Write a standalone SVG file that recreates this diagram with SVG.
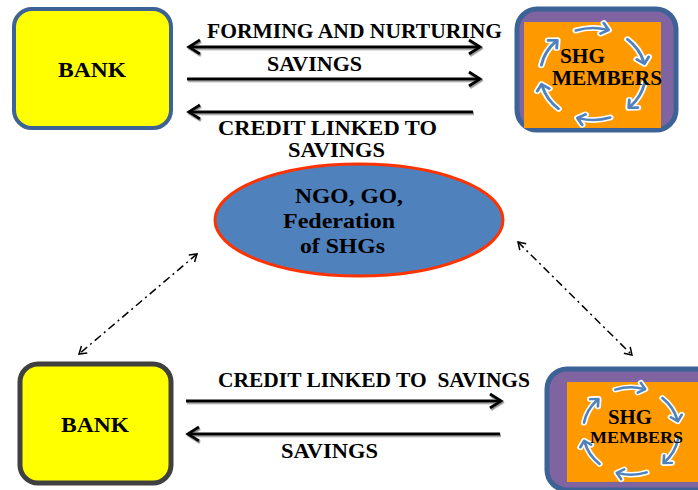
<svg xmlns="http://www.w3.org/2000/svg" width="698" height="490" viewBox="0 0 698 490">
  <defs>
    <style>
      .lbl { font-family: "Liberation Serif", "Times New Roman", serif; font-weight: bold; fill: #000; }
      .bank { fill: #FFFF00; }
      .shg-outer { fill: #8064A2; stroke: #3C6296; stroke-width: 5; }
      .shg-inner { fill: #FF9900; }
      .flow { stroke: #000; stroke-width: 3; fill: none; }
      .link { stroke: #000; stroke-width: 1.5; fill: none; stroke-dasharray: 8 4 2 4; }
      .cyc-halo { stroke: #FFFFFF; stroke-width: 6; fill: none; stroke-linecap: round; stroke-linejoin: round; }
      .cyc-core { stroke: #4F81BD; stroke-width: 2.6; fill: none; stroke-linecap: round; stroke-linejoin: round; }
    </style>
    <marker id="head" markerUnits="userSpaceOnUse" markerWidth="16" markerHeight="18" refX="13" refY="9" orient="auto-start-reverse">
      <path d="M2,2 L13,9 L2,16" fill="none" stroke="#000" stroke-width="3" stroke-linejoin="miter"/>
    </marker>
    <marker id="thin" markerUnits="userSpaceOnUse" markerWidth="12" markerHeight="12" refX="9" refY="6" orient="auto-start-reverse">
      <path d="M2,1.5 L9,6 L2,10.5" fill="none" stroke="#000" stroke-width="1.5"/>
    </marker>
    <filter id="shadow" x="-5%" y="-50%" width="110%" height="200%">
      <feDropShadow dx="1" dy="1.5" stdDeviation="0.7" flood-color="#777" flood-opacity="0.8"/>
    </filter>
    <!-- one curved segment of the cycle, centred at the top of a r=47 circle -->
    <g id="seg">
      <path class="cyc-halo" d="M-15.3,-44.4 A47,47 0 0 1 12.4,-45.3"/>
      <g transform="rotate(16)"><path class="cyc-halo" d="M-5,-52.5 L1,-47 L-5,-41.5"/></g>
      <path class="cyc-core" d="M-15.3,-44.4 A47,47 0 0 1 12.4,-45.3"/>
      <g transform="rotate(16)"><path class="cyc-core" d="M-5,-52.5 L1,-47 L-5,-41.5"/></g>
    </g>
    <g id="cycle">
      <use href="#seg"/>
      <use href="#seg" transform="rotate(60)"/>
      <use href="#seg" transform="rotate(120)"/>
      <use href="#seg" transform="rotate(180)"/>
      <use href="#seg" transform="rotate(240)"/>
      <use href="#seg" transform="rotate(300)"/>
    </g>
  </defs>

  <rect width="698" height="490" fill="#FFFFFF"/>

  <!-- connectors -->
  <g id="connectors">
    <g filter="url(#shadow)">
      <line class="flow" x1="189" y1="47" x2="480" y2="47" marker-start="url(#head)" marker-end="url(#head)"/>
      <line class="flow" x1="187" y1="79" x2="480" y2="79" marker-end="url(#head)"/>
      <line class="flow" x1="473" y1="112" x2="189" y2="112" marker-end="url(#head)"/>
      <line class="flow" x1="186" y1="401" x2="501" y2="401" marker-end="url(#head)"/>
      <line class="flow" x1="500" y1="434" x2="188" y2="434" marker-end="url(#head)"/>
    </g>
    <line class="link" x1="197" y1="254" x2="79" y2="354" marker-start="url(#thin)" marker-end="url(#thin)"/>
    <line class="link" x1="518" y1="242" x2="632" y2="355" marker-start="url(#thin)" marker-end="url(#thin)"/>
    <text class="lbl" x="207" y="38" font-size="20" textLength="295" lengthAdjust="spacingAndGlyphs">FORMING AND NURTURING</text>
    <text class="lbl" x="267" y="71" font-size="20" textLength="95" lengthAdjust="spacingAndGlyphs">SAVINGS</text>
    <text class="lbl" x="218" y="135" font-size="20" textLength="219" lengthAdjust="spacingAndGlyphs">CREDIT LINKED TO</text>
    <text class="lbl" x="288" y="157" font-size="20" textLength="97" lengthAdjust="spacingAndGlyphs">SAVINGS</text>
    <text class="lbl" x="218" y="387" font-size="20" textLength="312" lengthAdjust="spacingAndGlyphs" xml:space="preserve">CREDIT LINKED TO  SAVINGS</text>
    <text class="lbl" x="281" y="458" font-size="20" textLength="97" lengthAdjust="spacingAndGlyphs">SAVINGS</text>
  </g>

  <!-- bank, top -->
  <g id="bank-top">
    <rect class="bank" x="14" y="9" width="157" height="119" rx="18" stroke="#3C6296" stroke-width="4"/>
    <text class="lbl" x="58" y="77" font-size="21" textLength="68" lengthAdjust="spacingAndGlyphs">BANK</text>
  </g>

  <!-- self-help group members, top -->
  <g id="shg-top">
    <rect class="shg-outer" x="517" y="9" width="159" height="121" rx="20"/>
    <rect class="shg-inner" x="524" y="22" width="137" height="106"/>
    <use href="#cycle" transform="translate(593,74) scale(1.12,0.98)"/>
    <text class="lbl" x="560" y="63" font-size="20" textLength="45" lengthAdjust="spacingAndGlyphs">SHG</text>
    <text class="lbl" x="552" y="85" font-size="20" textLength="110" lengthAdjust="spacingAndGlyphs">MEMBERS</text>
  </g>

  <!-- facilitating agencies -->
  <g id="agencies">
    <ellipse cx="359" cy="220" rx="144" ry="56" fill="#4F81BD" stroke="#FF3300" stroke-width="3"/>
    <text class="lbl" x="295" y="203" font-size="21" textLength="108" lengthAdjust="spacingAndGlyphs">NGO, GO,</text>
    <text class="lbl" x="283" y="228" font-size="21" textLength="112" lengthAdjust="spacingAndGlyphs">Federation</text>
    <text class="lbl" x="300" y="253" font-size="21" textLength="85" lengthAdjust="spacingAndGlyphs">of SHGs</text>
  </g>

  <!-- bank, bottom -->
  <g id="bank-bottom">
    <rect class="bank" x="20" y="364" width="151" height="119" rx="18" stroke="#404040" stroke-width="5"/>
    <text class="lbl" x="61" y="432" font-size="21" textLength="68" lengthAdjust="spacingAndGlyphs">BANK</text>
  </g>

  <!-- self-help group members, bottom -->
  <g id="shg-bottom">
    <rect class="shg-outer" x="547" y="369" width="170" height="121" rx="20"/>
    <rect class="shg-inner" x="567" y="382" width="131" height="100"/>
    <use href="#cycle" transform="translate(631,431) scale(1.02,0.93)"/>
    <text class="lbl" x="608" y="424" font-size="20" textLength="44" lengthAdjust="spacingAndGlyphs">SHG</text>
    <text class="lbl" x="590" y="443" font-size="17" textLength="93" lengthAdjust="spacingAndGlyphs">MEMBERS</text>
  </g>
</svg>
